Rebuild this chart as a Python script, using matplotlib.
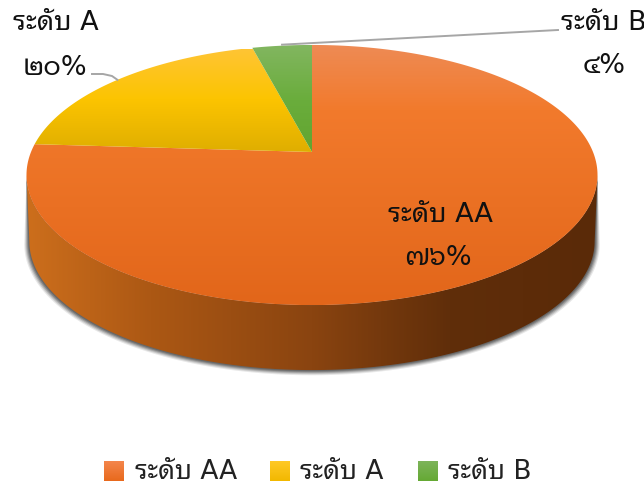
import numpy as np
import matplotlib
matplotlib.use("Agg")
import matplotlib.pyplot as plt
from matplotlib.colors import to_rgb
from matplotlib.patches import Polygon

plt.rcParams['font.family'] = ['DejaVu Sans', 'Noto Sans Thai Looped']

categories = ['ระดับ AA', 'ระดับ A', 'ระดับ B']
values = [76, 20, 4]
thai_digits = str.maketrans('0123456789', '๐๑๒๓๔๕๖๗๘๙')

# colour stops: (pixel y, colour), top of the face to bottom
top_stops = [
    [(45, '#EE8B55'), (110, '#F27A2C'), (305, '#E2661A')],
    [(50, '#FFC534'), (100, '#FCC400'), (152, '#DFAE00')],
    [(46, '#82B660'), (100, '#6AAD3C'), (152, '#62A530')],
]
side_stops = [(28, '#CC6E1C'), (150, '#AC5814'), (312, '#8A4410'), (450, '#602E0A'), (598, '#5A2A08')]
legend_stops = [('#F4864C', '#E8691C'), ('#FFC926', '#F2B800'), ('#7DB45A', '#65A934')]

# the pie plane is seen in perspective, centre is not the middle of the ellipse
cx, cy = 312, 152
kx, ky, k = 281, 126, 0.177
depth = 66.5


def project(theta, scale=1.0, drop=0.0):
    # theta in degrees, clockwise from 12 o'clock
    t = np.radians(theta)
    d = 1 + k * np.cos(t)
    return np.column_stack([cx + scale * kx * np.sin(t) / d, cy + drop - scale * ky * np.cos(t) / d])


def gradient_image(ax, stops, extent, horizontal=False, clip=None, zorder=2):
    pos = [s[0] for s in stops]
    cols = np.array([to_rgb(s[1]) for s in stops])
    lo, hi = (extent[0], extent[1]) if horizontal else (extent[2], extent[3])
    grid = np.linspace(lo, hi, 256)
    img = np.stack([np.interp(grid, pos, cols[:, i]) for i in range(3)], axis=-1)
    img = img[np.newaxis, :, :] if horizontal else img[:, np.newaxis, :]
    im = ax.imshow(img, extent=(extent[0], extent[1], extent[3], extent[2]), origin='upper',
                   aspect='auto', interpolation='bilinear', zorder=zorder)
    if clip is not None:
        im.set_clip_path(clip)
    return im


fig = plt.figure(figsize=(6.44, 4.86), dpi=100)
ax = fig.add_axes([0, 0, 1, 1])

# side wall, only the front part of the rim can be seen
front = np.linspace(100.2, 259.8, 200)
upper = project(front)
lower = project(front, scale=0.99, drop=depth)

# soft grey shadow below the wall
for grow, alpha in [(5, 0.12), (4, 0.18), (3, 0.25), (2, 0.35), (1, 0.4)]:
    shadow = np.vstack([upper, project(front[::-1], scale=0.99 + grow / 281, drop=depth + grow * 0.5)])
    ax.add_patch(Polygon(shadow, closed=True, fc='#404040', ec='none', alpha=alpha, zorder=1))

side = Polygon(np.vstack([upper, lower[::-1]]), closed=True, fc='none', ec='none', zorder=2)
ax.add_patch(side)
gradient_image(ax, side_stops, (25, 600, 170, 375), horizontal=True, clip=side)

# top faces, clockwise from 12 o'clock
start = 0.0
mid_angles = []
for name, val, stops in zip(categories, values, top_stops):
    sweep = 360.0 * val / sum(values)
    arc = project(np.linspace(start, start + sweep, 300))
    face = Polygon(np.vstack([[cx, cy], arc]), closed=True, fc='none', ec='none', zorder=3)
    ax.add_patch(face)
    gradient_image(ax, stops, (20, 605, stops[0][0], stops[-1][0]), clip=face, zorder=3)
    mid_angles.append(start + sweep / 2)
    start += sweep

# leader lines
leader_a = project(mid_angles[1])[0]
leader_b = project(mid_angles[2])[0]
ax.plot([92, 103, 112, leader_a[0]], [74, 74, 76, leader_a[1]], color='#A6A6A6', lw=1.4, zorder=4)
ax.plot([leader_b[0], 558], [leader_b[1] - 1, 30], color='#A6A6A6', lw=1.4, zorder=4)

# data labels
pct = [f'{v}%'.translate(thai_digits) for v in values]
label_pos = [(440, 215, 438, 258), (56, 23, 55, 68), (604, 23, 604, 66)]
for name, p, (x1, y1, x2, y2) in zip(categories, pct, label_pos):
    ax.text(x1, y1, name, ha='center', va='center', fontsize=19.5, color='#111111', zorder=5)
    ax.text(x2, y2, p, ha='center', va='center', fontsize=19.5, color='#111111', zorder=5)

# legend
swatch_x = [104, 270, 418]
text_x = [135, 300, 448]
for name, (c0, c1), sx, tx in zip(categories, legend_stops, swatch_x, text_x):
    gradient_image(ax, [(461, c0), (481, c1)], (sx, sx + 20, 461, 481), zorder=3)
    ax.text(tx, 472, name, ha='left', va='center', fontsize=19, color='#222222')

ax.set_xlim(0, 644)
ax.set_ylim(486, 0)
ax.axis('off')
fig.savefig('out.png', dpi=100)
